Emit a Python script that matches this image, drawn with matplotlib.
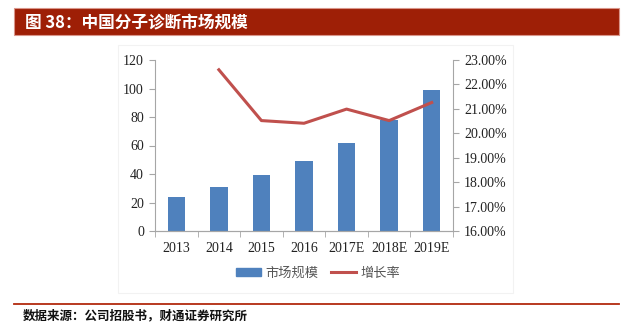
import matplotlib.pyplot as plt
from matplotlib.patches import Rectangle
from matplotlib.lines import Line2D
from matplotlib.ticker import FuncFormatter

# data
years = ['2013', '2014', '2015', '2016', '2017E', '2018E', '2019E']
market_size = [24, 31, 39, 49, 62, 78, 99]
growth = [None, 22.6, 20.52, 20.41, 20.99, 20.52, 21.26]

title = '图 38：中国分子诊断市场规模'
source = '数据来源：公司招股书，财通证券研究所'
bar_label = '市场规模'
line_label = '增长率'

cjk = ['Noto Sans CJK SC', 'DejaVu Sans']
serif = ['Liberation Serif', 'DejaVu Serif']

W, H = 641, 333
fig = plt.figure(figsize=(W / 100, H / 100), dpi=100)


def fx(px):
    return px / W


def fy(py):
    return 1 - py / H


# title bar
fig.add_artist(Rectangle((fx(14), fy(35)), fx(619 - 14), (35 - 8) / H,
                         facecolor='#9E1F06', edgecolor='#D9958A', lw=0.8,
                         transform=fig.transFigure))
fig.text(fx(25), fy(22), title, color='white', fontsize=12, family=cjk,
         va='center', ha='left', fontweight='bold')

# faint chart frame
fig.add_artist(Rectangle((fx(118), fy(293)), fx(513 - 118), (293 - 45) / H,
                         facecolor='none', edgecolor='#F2F2F2', lw=0.8,
                         transform=fig.transFigure))

# separator + source
fig.add_artist(Line2D([fx(14), fx(619)], [fy(304), fy(304)], color='#B22A0E',
                      lw=1.3, transform=fig.transFigure))
fig.text(fx(23), fy(316), source, fontsize=9, family=cjk, va='center',
         ha='left', fontweight='bold', color='#111111')

ax = fig.add_axes([fx(155), fy(231), fx(453 - 155), (231 - 60) / H])
x = range(len(years))
ax.bar(x, market_size, width=0.41, color='#4F81BD', zorder=2)
ax.set_xlim(-0.5, len(years) - 0.5)
ax.set_ylim(0, 120)
ax.set_yticks(range(0, 121, 20))
ax.set_xticks(list(x))
ax.set_xticklabels(years)
ax.set_xticks([i + 0.5 for i in range(-1, len(years))], minor=True)
ax.tick_params(axis='x', which='major', length=0, pad=8)
ax.tick_params(axis='x', which='minor', length=4, color='#A6A6A6', direction='out')
ax.tick_params(axis='y', length=4, color='#A6A6A6', pad=4)

ax2 = ax.twinx()
gx = [i for i, g in enumerate(growth) if g is not None]
gy = [g for g in growth if g is not None]
ax2.plot(gx, gy, color='#C0504D', lw=2.2, zorder=3)
ax2.set_ylim(16, 23)
ax2.set_yticks(range(16, 24))
ax2.yaxis.set_major_formatter(FuncFormatter(lambda v, p: '%.2f%%' % v))
ax2.tick_params(axis='y', length=4, color='#A6A6A6', pad=4)

for a in (ax, ax2):
    a.spines['top'].set_visible(False)
    for s in ('left', 'right', 'bottom'):
        a.spines[s].set_color('#A6A6A6')
    for lab in a.get_yticklabels() + a.get_xticklabels():
        lab.set_family(serif)
        lab.set_fontsize(10)
        lab.set_color('#222222')
ax2.spines['left'].set_visible(False)
ax.spines['right'].set_visible(False)

handles = [Rectangle((0, 0), 1, 1, color='#4F81BD'),
           Line2D([0], [0], color='#C0504D', lw=2.2)]
leg = fig.legend(handles, [bar_label, line_label], loc='center',
                 bbox_to_anchor=(fx(318), fy(273)), ncol=2, frameon=False,
                 prop={'family': cjk, 'size': 9.5}, handlelength=1.9,
                 handleheight=0.5, columnspacing=1.0, handletextpad=0.3)
for t in leg.get_texts():
    t.set_color('#555555')

fig.savefig('out.png', dpi=100)
